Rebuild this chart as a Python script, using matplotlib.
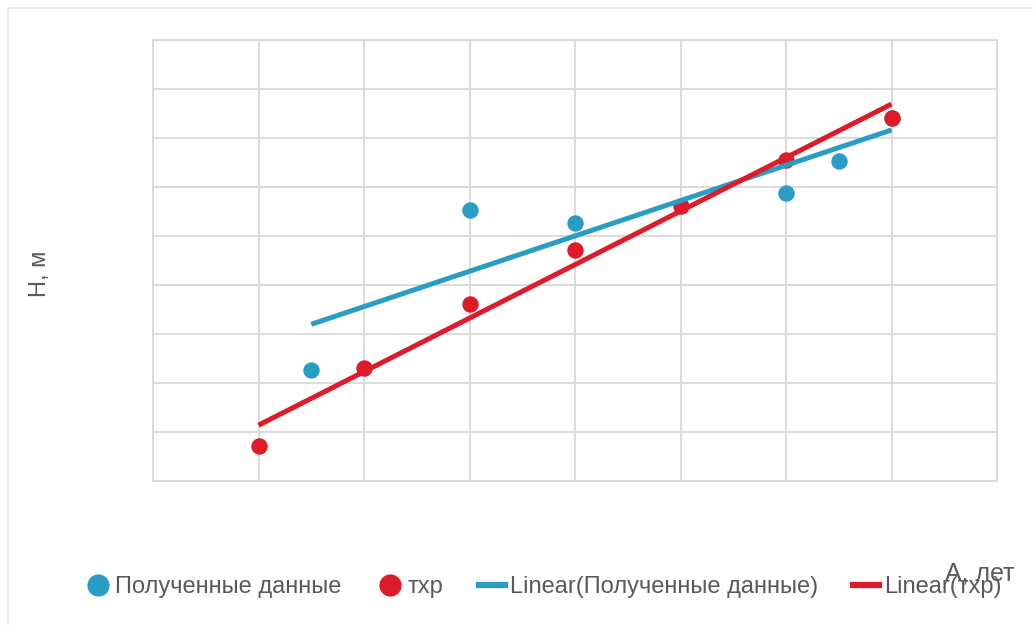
import numpy as np
import matplotlib
matplotlib.use("Agg")
import matplotlib.pyplot as plt
from matplotlib.lines import Line2D
from matplotlib.patches import Rectangle

plt.rcParams['font.family'] = ['Liberation Sans', 'DejaVu Sans']

# Data (x in grid units of age, y in grid units of height)
obs_x = [1.5, 3.0, 4.0, 6.0, 6.5, 7.0]
obs_y = [2.27, 5.53, 5.27, 5.88, 6.53, 7.41]
txr_x = [1, 2, 3, 4, 5, 6, 7]
txr_y = [0.71, 2.31, 3.61, 4.71, 5.61, 6.55, 7.41]

labels = ["Полученные данные", "тхр", "Linear(Полученные данные)", "Linear(тхр)"]
xlabel = "А, лет"
ylabel = "Н, м"

BLUE = "#2B9DC4"
RED = "#DC1C2A"
GRID = "#D9D9D9"
TEXT = "#595959"

fig = plt.figure(figsize=(10.33, 6.25), dpi=100)
fig.patches.append(Rectangle((8 / 1033, -0.01), 1.02, 1 - 8 / 625 + 0.01,
                             transform=fig.transFigure, fill=False,
                             edgecolor="#E6E6E6", lw=1.2))

ax = fig.add_axes([153 / 1033, 1 - 481 / 625, (997 - 153) / 1033, (481 - 40) / 625])
ax.set_xlim(0, 8)
ax.set_ylim(0, 9)
ax.set_xticks(np.arange(0, 9, 1))
ax.set_yticks(np.arange(0, 10, 1))
ax.tick_params(length=0, labelbottom=False, labelleft=False)
ax.grid(True, color=GRID, lw=1.3)
ax.set_axisbelow(True)
for s in ax.spines.values():
    s.set_color(GRID)
    s.set_linewidth(1.3)

ax.scatter(obs_x, obs_y, s=140, color=BLUE, zorder=3, lw=0)
ax.scatter(txr_x, txr_y, s=140, color=RED, zorder=3, lw=0)

bo = np.polyfit(obs_x, obs_y, 1)
bt = np.polyfit(txr_x, txr_y, 1)
xo = np.array([min(obs_x), max(obs_x)])
xt = np.array([min(txr_x), max(txr_x)])
ax.plot(xo, np.polyval(bo, xo), color=BLUE, lw=3.6, zorder=4, solid_capstyle='butt')
ax.plot(xt, np.polyval(bt, xt), color=RED, lw=3.6, zorder=4, solid_capstyle='butt')

fig.text(40 / 1033, 1 - 274 / 625, ylabel, rotation=90, ha='center', va='center',
         fontsize=17, color=TEXT)

handles = [
    Line2D([], [], marker='o', ls='', color=BLUE, markersize=16, markeredgewidth=0),
    Line2D([], [], marker='o', ls='', color=RED, markersize=16, markeredgewidth=0),
    Line2D([], [], color=BLUE, lw=4.5),
    Line2D([], [], color=RED, lw=4.5),
]
fig.legend(handles, labels, loc='center', bbox_to_anchor=(543 / 1033, 1 - 587 / 625),
           ncol=4, frameon=False, fontsize=17, labelcolor=TEXT,
           handlelength=1.1, handletextpad=0.2, columnspacing=1.5)

fig.text(980 / 1033, 1 - 574 / 625, xlabel, ha='center', va='center',
         fontsize=18, color=TEXT)

fig.savefig("out.png", dpi=100, facecolor='white')
